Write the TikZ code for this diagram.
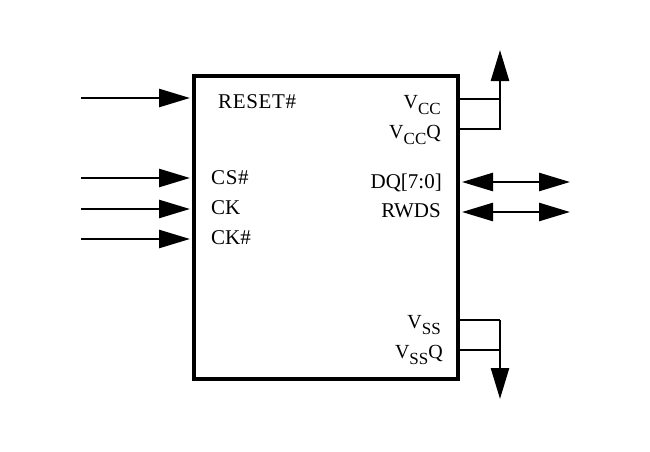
\documentclass[tikz,border=0pt]{standalone}
\usepackage{fontspec}
\setmainfont{Liberation Serif}
\newfontfamily\spacedfont[LetterSpace=3]{Liberation Serif}
\usetikzlibrary{arrows.meta}
\newcommand{\Vsub}[1]{V\raisebox{-6pt}{\fontsize{17}{17}\selectfont #1}}
\tikzset{
  x=1pt,y=-1pt,
  chip/.style={draw=black,line width=3.5pt,fill=white,minimum width=264pt,minimum height=303pt,inner sep=0pt,outer sep=0pt,anchor=north west},
  pin/.style={inner sep=0pt,font=\fontsize{21}{21}\selectfont},
  vpin/.style={inner sep=0pt,anchor=base east,font=\fontsize{20}{20}\selectfont},
  lpin/.style={pin,anchor=base west},
  rpin/.style={pin,anchor=base east},
  wire/.style={draw=black,line width=2.6pt},
  inarrow/.style={wire,-{Triangle[length=31pt,width=18pt]}},
  bothway/.style={wire,{Triangle[length=31pt,width=18pt]}-{Triangle[length=31pt,width=18pt]}},
  railarrow/.style={wire,-{Triangle[length=31pt,width=18pt]}}
}
\begin{document}
\begin{tikzpicture}
\useasboundingbox (0,0) rectangle (650,452);
\fill[white] (0,0) rectangle (650,452);
\node[chip] (box) at (194,76) {};

\node[lpin,font=\fontsize{21}{21}\spacedfont] (reset) at (218,108) {RESET\#};
\node[lpin,font=\fontsize{21}{21}\spacedfont] (cs) at (211,184) {CS\#};
\node[lpin] (ck) at (211,214) {CK};
\node[lpin] (ckn) at (211,244) {CK\#};
\node[vpin] (vcc) at (441,108) {\Vsub{CC}};
\node[vpin] (vccq) at (441,138) {\Vsub{CC}Q};
\node[rpin] (dq) at (442,188) {DQ[7:0]};
\node[rpin] (rwds) at (441,217) {RWDS};
\node[vpin] (vss) at (441,328) {\Vsub{SS}};
\node[vpin] (vssq) at (443,358) {\Vsub{SS}Q};

% input arrows
\foreach \n/\yy in {a/98,b/178,c/209,d/239}{
  \coordinate (\n from) at (81,\yy);
  \coordinate (\n to) at (190,\yy);
  \draw[inarrow] (\n from) -- (\n to);
}
% bidirectional arrows
\foreach \n/\yy in {e/182,f/212}{
  \coordinate (\n near) at (462,\yy);
  \coordinate (\n far) at (570,\yy);
  \draw[bothway] (\n near) -- (\n far);
}
% power rails
\coordinate (vccpin) at (box.east |- 0,99);
\coordinate (vccqpin) at (box.east |- 0,129);
\coordinate (vccbend) at (500,129);
\coordinate (vcctip) at (500,50);
\draw[wire] (vccpin) -- (vccpin -| vccbend);
\draw[wire,line join=miter] (vccqpin) -- (vccbend) -- (vcctip |- 0,81);
\draw[railarrow] (vccbend) -- (vcctip);

\coordinate (vsspin) at (box.east |- 0,320);
\coordinate (vssqpin) at (box.east |- 0,350);
\coordinate (vssbend) at (500,320);
\coordinate (vsstip) at (500,399);
\draw[wire] (vssqpin) -- (vssqpin -| vssbend);
\draw[wire] (vsspin) -- (vssbend);
\draw[railarrow] (vssbend) -- (vsstip);
\end{tikzpicture}
\end{document}
